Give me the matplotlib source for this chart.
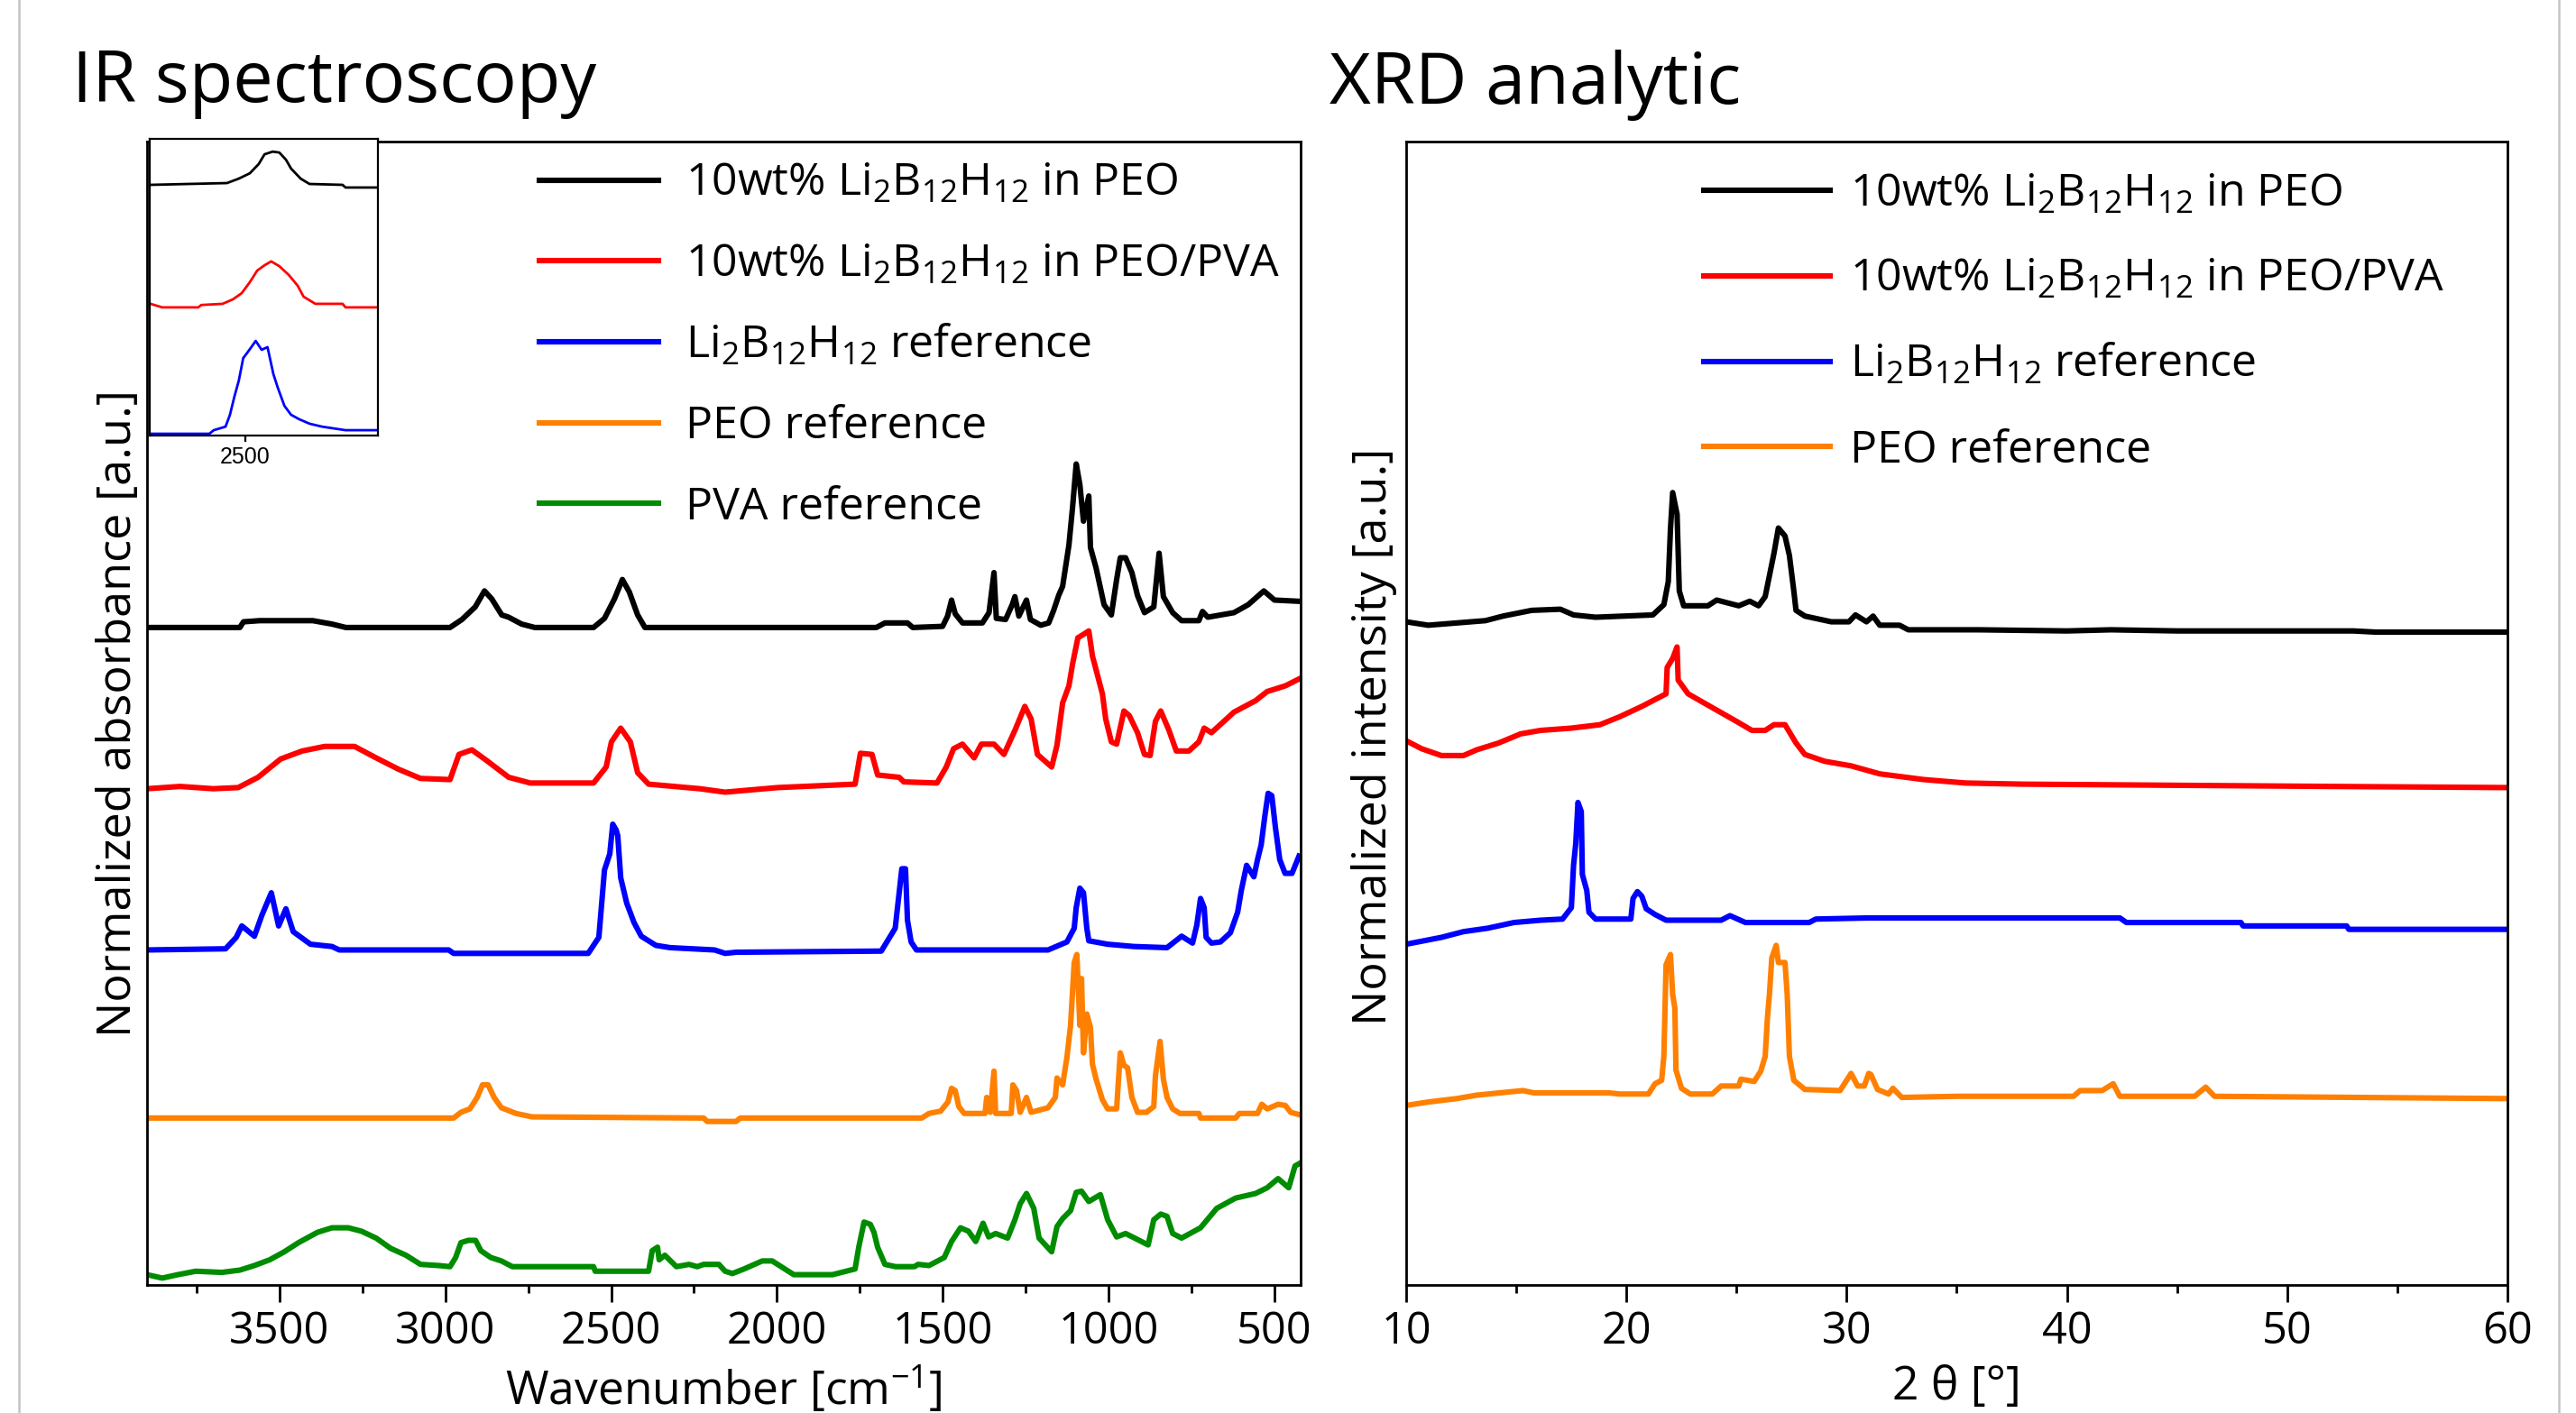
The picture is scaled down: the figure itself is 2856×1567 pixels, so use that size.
import matplotlib
matplotlib.use("Agg")
import matplotlib.pyplot as plt
from matplotlib.lines import Line2D
from matplotlib.ticker import MultipleLocator, FixedLocator

plt.rcParams['font.family'] = ['Open Sans', 'DejaVu Sans']
plt.rcParams['mathtext.fontset'] = 'custom'
plt.rcParams['mathtext.rm'] = 'Open Sans'
plt.rcParams['mathtext.it'] = 'Open Sans:italic'
plt.rcParams['mathtext.bf'] = 'Open Sans:bold'

# ---------------- IR data (wavenumber, offset absorbance) ----------------
ir_peo_li_x = [3900, 3620, 3609, 3560, 3400, 3342, 3300, 2986, 2950, 2910, 2882, 2860, 2830, 2809,
               2770, 2730, 2553, 2520, 2490, 2466, 2445, 2420, 2398, 1700, 1674, 1606, 1590, 1500,
               1485, 1473, 1462, 1440, 1380, 1360, 1345, 1338, 1310, 1290, 1282, 1270, 1247, 1235,
               1204, 1180, 1165, 1150, 1138, 1119, 1108, 1097, 1086, 1075, 1059, 1054, 1037, 1013,
               991, 975, 964, 948, 929, 912, 891, 863, 847, 834, 806, 779, 727, 716, 700, 621, 578,
               531, 499, 430]
ir_peo_li_y = [57.5, 57.5, 58.0, 58.1, 58.1, 57.8, 57.5, 57.5, 58.2, 59.3, 60.7, 60.0, 58.6, 58.4,
               57.8, 57.5, 57.5, 58.3, 60.0, 61.7, 60.6, 58.6, 57.5, 57.5, 57.9, 57.9, 57.5, 57.6,
               58.5, 59.9, 58.7, 57.9, 57.9, 58.8, 62.3, 58.3, 58.2, 59.5, 60.2, 58.5, 59.9, 58.2,
               57.7, 57.9, 59.0, 60.3, 61.1, 64.7, 68.0, 71.8, 70.0, 66.8, 69.0, 64.5, 62.7, 59.5,
               58.6, 61.7, 63.6, 63.6, 62.3, 60.3, 58.8, 59.3, 64.0, 60.2, 58.8, 58.1, 58.1, 58.9,
               58.4, 58.8, 59.5, 60.7, 59.9, 59.8]

ir_peo_pva_li_x = [3900, 3800, 3700, 3625, 3565, 3497, 3432, 3364, 3274, 3209, 3141, 3075, 2986, 2959,
                   2920, 2877, 2809, 2744, 2553, 2515, 2499, 2471, 2442, 2420, 2387, 2232, 2156, 1998,
                   1764, 1748, 1713, 1696, 1631, 1617, 1517, 1489, 1467, 1440, 1405, 1383, 1345, 1315,
                   1282, 1252, 1233, 1214, 1171, 1155, 1138, 1119, 1108, 1092, 1075, 1059, 1048, 1037,
                   1018, 1008, 991, 975, 953, 937, 912, 891, 874, 858, 842, 817, 795, 757, 727, 711,
                   689, 621, 556, 521, 466, 425]
ir_peo_pva_li_y = [43.4, 43.6, 43.4, 43.5, 44.4, 46.0, 46.7, 47.1, 47.1, 46.1, 45.1, 44.3, 44.2, 46.4,
                   46.8, 45.9, 44.4, 43.9, 43.9, 45.3, 47.5, 48.7, 47.5, 44.8, 43.8, 43.4, 43.1, 43.5,
                   43.8, 46.5, 46.4, 44.6, 44.4, 44.0, 43.9, 45.3, 46.9, 47.3, 46.1, 47.3, 47.3, 46.4,
                   48.5, 50.6, 49.5, 46.4, 45.3, 47.2, 50.9, 52.4, 54.3, 56.6, 56.9, 57.2, 55.0, 53.8,
                   51.7, 49.5, 47.5, 47.3, 50.2, 49.8, 48.3, 46.4, 46.3, 49.3, 50.2, 48.5, 46.7, 46.7,
                   47.5, 48.7, 48.3, 50.1, 51.1, 51.9, 52.4, 53.0]

ir_li_ref_x = [3900, 3663, 3631, 3614, 3576, 3554, 3525, 3503, 3481, 3459, 3407, 3342, 3320, 2990,
               2975, 2569, 2537, 2520, 2504, 2495, 2485, 2480, 2471, 2453, 2431, 2409, 2365, 2322,
               2188, 2156, 2123, 1685, 1643, 1623, 1612, 1606, 1595, 1579, 1182, 1125, 1103, 1097,
               1086, 1075, 1065, 1059, 1002, 923, 823, 779, 746, 733, 722, 711, 705, 689, 662, 632,
               610, 599, 583, 561, 550, 539, 528, 518, 507, 496, 483, 467, 446, 425]
ir_li_ref_y = [29.3, 29.4, 30.4, 31.4, 30.5, 32.3, 34.3, 31.4, 32.9, 30.9, 29.8, 29.6, 29.3, 29.3,
               29.0, 29.0, 30.4, 36.3, 37.7, 40.3, 39.8, 39.3, 35.6, 33.4, 31.7, 30.5, 29.7, 29.5,
               29.3, 29.0, 29.1, 29.2, 31.2, 36.4, 36.4, 31.9, 30.0, 29.3, 29.3, 30.0, 31.2, 33.0,
               34.7, 34.3, 31.2, 30.1, 29.8, 29.6, 29.5, 30.5, 29.9, 31.5, 33.8, 33.0, 30.4, 29.9,
               30.0, 30.8, 32.6, 34.5, 36.7, 35.7, 37.2, 38.5, 41.0, 43.0, 42.8, 40.0, 37.2, 36.0,
               36.0, 37.5]

ir_peo_ref_x = [3900, 2975, 2953, 2926, 2904, 2888, 2871, 2853, 2831, 2787, 2738, 2221, 2210, 2123,
                2110, 1563, 1541, 1506, 1484, 1473, 1462, 1451, 1435, 1372, 1367, 1356, 1345, 1340,
                1293, 1288, 1277, 1266, 1247, 1233, 1182, 1160, 1155, 1138, 1125, 1114, 1103, 1095,
                1086, 1081, 1075, 1065, 1054, 1048, 1037, 1018, 1002, 975, 970, 964, 953, 942, 929,
                912, 885, 863, 858, 844, 834, 823, 806, 784, 727, 722, 616, 605, 550, 537, 521, 488,
                466, 450, 425]
ir_peo_ref_y = [14.6, 14.6, 15.1, 15.4, 16.4, 17.5, 17.5, 16.4, 15.5, 15.0, 14.7, 14.6, 14.3, 14.3,
                14.6, 14.6, 15.0, 15.2, 16.0, 17.2, 17.0, 15.6, 15.0, 15.0, 16.4, 15.1, 18.7, 15.0,
                15.0, 17.5, 17.0, 15.1, 16.4, 15.1, 15.5, 16.4, 18.1, 17.5, 19.9, 22.7, 28.2, 28.9,
                22.7, 26.8, 20.3, 23.7, 22.5, 19.3, 18.0, 16.2, 15.4, 15.4, 17.7, 20.3, 19.2, 19.0,
                16.4, 15.1, 15.1, 15.6, 18.3, 21.3, 18.0, 16.4, 15.4, 15.0, 15.0, 14.6, 14.6, 15.0,
                15.0, 15.8, 15.4, 15.8, 15.7, 15.1, 14.9]

ir_pva_ref_x = [3900, 3854, 3807, 3753, 3674, 3620, 3576, 3530, 3486, 3443, 3386, 3342, 3293, 3253,
                3209, 3165, 3119, 3075, 3021, 2986, 2969, 2953, 2931, 2909, 2893, 2863, 2831, 2798,
                2553, 2548, 2387, 2376, 2360, 2355, 2338, 2303, 2265, 2240, 2221, 2175, 2156, 2134,
                2099, 2044, 2014, 1987, 1949, 1832, 1764, 1753, 1737, 1718, 1707, 1696, 1674, 1642,
                1585, 1574, 1541, 1495, 1473, 1446, 1422, 1400, 1378, 1361, 1340, 1304, 1282, 1266,
                1247, 1225, 1209, 1171, 1155, 1138, 1114, 1097, 1081, 1059, 1024, 1002, 975, 948,
                907, 880, 863, 842, 823, 806, 779, 722, 673, 616, 556, 521, 488, 456, 437, 425]
ir_pva_ref_y = [0.9, 0.6, 0.9, 1.2, 1.1, 1.3, 1.7, 2.2, 2.9, 3.7, 4.6, 5.0, 5.0, 4.7,
                4.1, 3.2, 2.6, 1.8, 1.7, 1.6, 2.4, 3.7, 3.9, 3.9, 3.0, 2.4, 2.1, 1.6,
                1.6, 1.2, 1.2, 3.0, 3.3, 2.2, 2.6, 1.6, 1.8, 1.6, 1.8, 1.8, 1.2, 1.0,
                1.4, 2.1, 2.1, 1.6, 0.9, 0.9, 1.4, 3.3, 5.5, 5.3, 4.6, 3.3, 1.8, 1.6,
                1.6, 1.8, 1.7, 2.4, 3.8, 5.0, 4.7, 3.8, 5.4, 4.2, 4.5, 4.1, 5.7, 7.1,
                8.0, 6.7, 4.1, 2.9, 5.1, 5.8, 6.5, 8.1, 8.2, 7.3, 7.9, 5.7, 4.2, 4.5,
                3.9, 3.5, 5.7, 6.2, 6.0, 4.5, 4.1, 5.0, 6.7, 7.6, 8.0, 8.5, 9.3, 8.5, 10.4, 10.6]

# inset: B-H stretching band around 2500 cm-1
inset_peo_li_x = [2629, 2525, 2509, 2494, 2482, 2474, 2463, 2454, 2445, 2438, 2425, 2413, 2368, 2364, 2321]
inset_peo_li_y = [84.5, 85.1, 86.6, 88.4, 91.5, 94.8, 95.7, 95.4, 93.0, 90.0, 86.6, 84.8, 84.5, 83.6, 83.6]
inset_peo_pva_li_x = [2629, 2613, 2564, 2560, 2531, 2517, 2505, 2494, 2484, 2474, 2465, 2454, 2441,
                      2429, 2421, 2405, 2368, 2364, 2321]
inset_peo_pva_li_y = [44.4, 43.2, 43.2, 44.0, 44.4, 45.9, 48.0, 51.7, 55.6, 57.4, 58.7, 57.1, 54.1,
                      50.5, 46.8, 44.4, 44.4, 43.2, 43.2]
inset_li_ref_x = [2629, 2549, 2543, 2527, 2521, 2515, 2509, 2503, 2499, 2492, 2486, 2478, 2470, 2462,
                  2456, 2447, 2438, 2427, 2413, 2396, 2364, 2321]
inset_li_ref_y = [0.6, 0.6, 1.8, 3.0, 7.0, 13.1, 18.5, 26.1, 27.4, 29.8, 31.9, 28.9, 29.8, 20.7,
                  16.1, 10.0, 7.0, 5.5, 4.0, 3.0, 1.8, 1.8]

# ---------------- XRD data (2 theta, offset intensity) ----------------
xrd_peo_li_x = [10.0, 11.0, 13.6, 14.4, 15.7, 17.0, 17.6, 18.6, 21.2, 21.7, 21.9, 22.0, 22.1, 22.3,
                22.4, 22.6, 23.7, 24.1, 25.1, 25.6, 26.0, 26.3, 26.5, 26.7, 26.9, 27.2, 27.4, 27.6,
                27.7, 28.1, 29.3, 30.1, 30.4, 30.9, 31.2, 31.5, 32.4, 32.8, 36.0, 40.0, 42.0, 45.0,
                50.0, 53.0, 54.0, 60.0]
xrd_peo_li_y = [58.0, 57.7, 58.1, 58.5, 59.0, 59.1, 58.6, 58.4, 58.6, 59.5, 61.5, 66.1, 69.3, 67.4,
                60.7, 59.4, 59.4, 59.9, 59.4, 59.8, 59.4, 60.2, 62.1, 64.0, 66.2, 65.5, 63.8, 60.7,
                59.0, 58.5, 58.0, 58.0, 58.6, 58.0, 58.5, 57.7, 57.7, 57.3, 57.3, 57.2, 57.3, 57.2,
                57.2, 57.2, 57.1, 57.1]

xrd_peo_pva_li_x = [10.0, 10.7, 11.6, 12.6, 13.2, 14.2, 15.2, 16.1, 17.5, 18.8, 19.7, 20.7, 21.3, 21.8,
                    21.85, 22.1, 22.3, 22.35, 22.8, 23.8, 24.9, 25.7, 26.3, 26.7, 27.2, 27.7, 28.1,
                    29.0, 30.2, 31.5, 33.5, 35.4, 38.0, 45.0, 52.0, 60.0]
xrd_peo_pva_li_y = [47.6, 46.9, 46.3, 46.3, 46.8, 47.4, 48.2, 48.5, 48.7, 49.0, 49.7, 50.6, 51.2, 51.7,
                    54.0, 54.8, 55.8, 52.9, 51.7, 50.6, 49.4, 48.5, 48.5, 49.0, 49.0, 47.4, 46.4,
                    45.8, 45.4, 44.7, 44.2, 43.9, 43.8, 43.7, 43.6, 43.5]

xrd_li_ref_x = [10.0, 11.6, 12.6, 13.7, 14.9, 16.1, 17.1, 17.5, 17.6, 17.7, 17.8, 17.95, 18.0, 18.2,
                18.3, 18.6, 20.2, 20.3, 20.5, 20.7, 20.9, 21.3, 21.8, 24.3, 24.7, 25.4, 28.3, 28.6,
                31.0, 35.0, 42.4, 42.7, 47.9, 48.0, 52.7, 52.8, 60.0]
xrd_li_ref_y = [29.8, 30.4, 30.9, 31.2, 31.7, 31.9, 32.0, 33.0, 36.7, 38.6, 42.2, 41.4, 35.9, 34.5,
                32.6, 32.0, 32.0, 33.8, 34.4, 34.0, 32.9, 32.4, 31.9, 31.9, 32.3, 31.7, 31.7, 32.0,
                32.1, 32.1, 32.1, 31.7, 31.7, 31.4, 31.4, 31.1, 31.1]

xrd_peo_ref_x = [10.0, 11.0, 12.3, 13.2, 15.3, 15.8, 19.2, 19.7, 21.0, 21.3, 21.6, 21.7, 21.8, 22.0,
                 22.1, 22.2, 22.25, 22.5, 22.9, 23.9, 24.3, 25.1, 25.2, 25.8, 26.1, 26.3, 26.4, 26.5,
                 26.6, 26.8, 26.9, 27.2, 27.3, 27.4, 27.6, 28.1, 29.7, 30.0, 30.2, 30.5, 30.8, 31.0,
                 31.1, 31.4, 31.9, 32.1, 32.5, 35.0, 40.3, 40.6, 41.6, 42.1, 42.4, 45.8, 46.3, 46.7,
                 60.0]
xrd_peo_ref_y = [15.7, 16.0, 16.3, 16.6, 17.0, 16.8, 16.8, 16.7, 16.7, 17.6, 17.9, 20.0, 28.0, 28.9,
                 25.4, 24.2, 18.8, 17.2, 16.7, 16.7, 17.4, 17.4, 18.0, 17.8, 18.7, 20.0, 23.3, 25.6,
                 28.6, 29.7, 28.2, 28.2, 25.4, 20.0, 17.9, 17.1, 17.0, 17.9, 18.5, 17.4, 17.4, 18.5,
                 18.4, 17.1, 16.7, 17.2, 16.4, 16.5, 16.5, 17.0, 17.0, 17.6, 16.5, 16.5, 17.3, 16.5,
                 16.3]

colors = ['black', '#ff0000', '#0000ff', '#ff8000', '#008c00']
ir_labels = [r'10wt% Li$_\mathregular{2}$B$_\mathregular{12}$H$_\mathregular{12}$ in PEO',
             r'10wt% Li$_\mathregular{2}$B$_\mathregular{12}$H$_\mathregular{12}$ in PEO/PVA',
             r'Li$_\mathregular{2}$B$_\mathregular{12}$H$_\mathregular{12}$ reference',
             'PEO reference',
             'PVA reference']

W, H = 2856, 1567
fig = plt.figure(figsize=(W / 200, H / 200), dpi=200)

def px_axes(x0, y0, x1, y1):
    return fig.add_axes([x0 / W, 1 - y1 / H, (x1 - x0) / W, (y1 - y0) / H])

def style(ax):
    for s in ax.spines.values():
        s.set_linewidth(1.0)
    ax.set_yticks([])
    ax.tick_params(axis='x', which='major', direction='out', length=6.8, width=1.0,
                   labelsize=17.5, pad=3, top=False)
    ax.tick_params(axis='x', which='minor', direction='out', length=3.3, width=1.0, top=False)

# ---------------- IR panel ----------------
ax1 = px_axes(163, 157, 1442, 1425)
ir_x = [ir_peo_li_x, ir_peo_pva_li_x, ir_li_ref_x, ir_peo_ref_x, ir_pva_ref_x]
ir_y = [ir_peo_li_y, ir_peo_pva_li_y, ir_li_ref_y, ir_peo_ref_y, ir_pva_ref_y]
for xs, ys, c, lab in zip(ir_x, ir_y, colors, ir_labels):
    ax1.plot(xs, ys, color=c, lw=2.2, label=lab)
ax1.set_xlim(3900, 420)
ax1.set_ylim(0, 100)
ax1.xaxis.set_major_locator(MultipleLocator(500))
ax1.xaxis.set_minor_locator(MultipleLocator(250))
style(ax1)
ax1.set_xlabel(r'Wavenumber [cm$^\mathregular{-1}$]', fontsize=18.6, labelpad=4)
ax1.set_ylabel('Normalized absorbance [a.u.]', fontsize=18.8)
ax1.yaxis.set_label_coords(-0.005, 0.5)
ax1.legend(loc='upper left', bbox_to_anchor=(0.340, 0.982), frameon=False, fontsize=18,
           handlelength=2.65, handletextpad=0.6, labelspacing=0.8, borderpad=0, borderaxespad=0)

# inset
ax_in = px_axes(166, 154, 419, 483)
inset_x = [inset_peo_li_x, inset_peo_pva_li_x, inset_li_ref_x]
inset_y = [inset_peo_li_y, inset_peo_pva_li_y, inset_li_ref_y]
for xs, ys, c in zip(inset_x, inset_y, colors[:3]):
    ax_in.plot(xs, ys, color=c, lw=1.0)
ax_in.set_xlim(2630, 2320)
ax_in.set_ylim(0, 100)
ax_in.set_yticks([])
ax_in.xaxis.set_major_locator(FixedLocator([2500]))
ax_in.tick_params(axis='x', direction='out', length=2.5, width=0.8, labelsize=9, pad=2)
for lbl in ax_in.get_xticklabels():
    lbl.set_family('Liberation Sans')
for s in ax_in.spines.values():
    s.set_linewidth(0.8)

# ---------------- XRD panel ----------------
ax2 = px_axes(1559, 157, 2780, 1425)
xrd_x = [xrd_peo_li_x, xrd_peo_pva_li_x, xrd_li_ref_x, xrd_peo_ref_x]
xrd_y = [xrd_peo_li_y, xrd_peo_pva_li_y, xrd_li_ref_y, xrd_peo_ref_y]
for xs, ys, c, lab in zip(xrd_x, xrd_y, colors[:4], ir_labels[:4]):
    ax2.plot(xs, ys, color=c, lw=2.2, label=lab)
ax2.set_xlim(10, 60)
ax2.set_ylim(0, 100)
ax2.xaxis.set_major_locator(MultipleLocator(10))
ax2.xaxis.set_minor_locator(MultipleLocator(5))
style(ax2)
ax2.set_xlabel('2 θ [°]', fontsize=18.6, labelpad=4)
ax2.set_ylabel('Normalized intensity [a.u.]', fontsize=18.8)
ax2.yaxis.set_label_coords(-0.0085, 0.48)
ax2.legend(loc='upper left', bbox_to_anchor=(0.270, 0.973), frameon=False, fontsize=18,
           handlelength=2.8, handletextpad=0.45, labelspacing=0.9, borderpad=0, borderaxespad=0)

# titles
fig.text(80 / W, 1 - 113 / H, 'IR spectroscopy', fontsize=28.6, va='baseline')
fig.text(1474 / W, 1 - 115 / H, 'XRD analytic', fontsize=28.6, va='baseline')

# thin grey frame lines at the page edges
fig.add_artist(Line2D([21 / W, 21 / W], [0, 1], color='#c4c4c4', lw=0.9))
fig.add_artist(Line2D([2837 / W, 2837 / W], [0, 1], color='#c4c4c4', lw=0.9))

fig.savefig('out.png', dpi=200)
